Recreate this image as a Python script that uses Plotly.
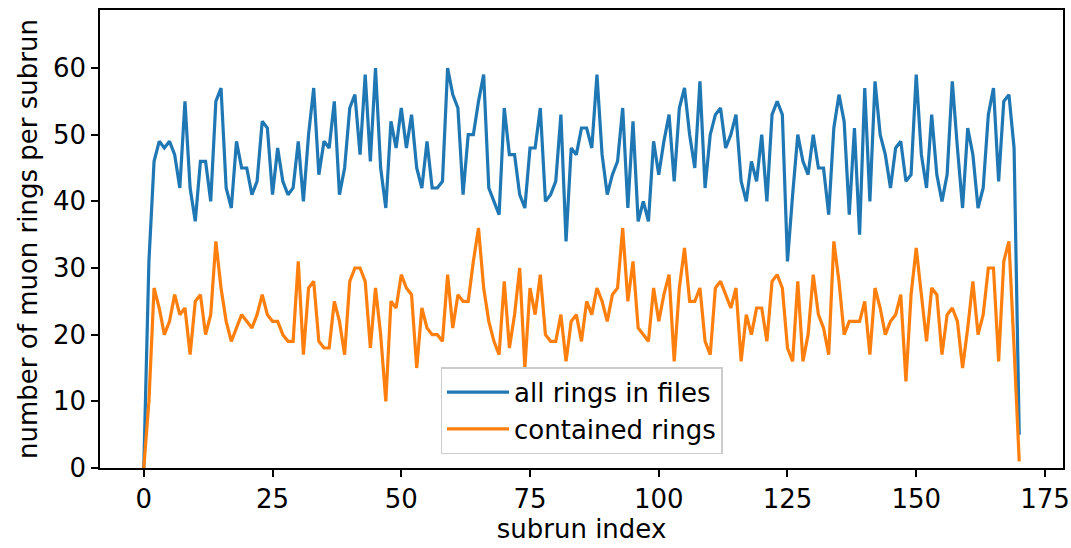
import plotly.graph_objects as go

all_rings = [0, 31, 46, 49, 48, 49, 47, 42, 55, 42, 37, 46, 46, 40, 55, 57, 42, 39, 49, 45,
             45, 41, 43, 52, 51, 41, 48, 43, 41, 42, 49, 40, 50, 57, 44, 49, 48, 55, 41, 45,
             54, 56, 47, 59, 46, 60, 45, 39, 52, 48, 54, 48, 53, 45, 42, 49, 42, 42, 43, 60,
             56, 54, 41, 50, 50, 55, 59, 42, 40, 38, 54, 47, 47, 41, 39, 48, 48, 54, 40, 41,
             43, 53, 34, 48, 47, 51, 51, 48, 59, 47, 41, 44, 46, 54, 39, 52, 37, 40, 37, 49,
             44, 49, 53, 43, 54, 57, 50, 45, 58, 42, 50, 53, 54, 48, 50, 53, 43, 40, 46, 43,
             50, 40, 53, 55, 53, 31, 41, 50, 46, 44, 50, 45, 45, 38, 51, 56, 52, 38, 51, 35,
             57, 40, 58, 50, 47, 42, 48, 49, 43, 44, 59, 47, 42, 53, 44, 40, 44, 58, 48, 39,
             51, 47, 39, 42, 53, 57, 43, 55, 56, 48, 5]

contained_rings = [0, 10, 27, 24, 20, 22, 26, 23, 24, 17, 25, 26, 20, 23, 34, 27, 22, 19, 21, 23,
                   22, 21, 23, 26, 23, 22, 22, 20, 19, 19, 31, 17, 27, 28, 19, 18, 18, 25, 22, 17,
                   28, 30, 30, 28, 18, 27, 20, 10, 25, 24, 29, 27, 26, 15, 24, 21, 20, 20, 19, 29,
                   21, 26, 25, 25, 31, 36, 27, 22, 19, 17, 28, 18, 23, 30, 15, 27, 23, 29, 20, 19,
                   19, 23, 16, 22, 23, 19, 25, 23, 27, 25, 22, 26, 27, 36, 25, 31, 21, 20, 19, 27,
                   22, 26, 29, 16, 27, 33, 25, 25, 27, 19, 17, 27, 28, 26, 24, 27, 16, 23, 20, 24,
                   24, 19, 28, 29, 27, 18, 16, 28, 16, 20, 29, 23, 21, 17, 34, 28, 20, 22, 22, 22,
                   25, 17, 27, 24, 20, 22, 23, 26, 13, 26, 33, 26, 19, 27, 26, 17, 23, 24, 22, 15,
                   21, 28, 20, 23, 30, 30, 16, 31, 34, 18, 1]

subrun_index = list(range(len(all_rings)))

x_ticks = [0, 25, 50, 75, 100, 125, 150, 175]
y_ticks = [0, 10, 20, 30, 40, 50, 60]

FONT = "DejaVu Sans"
FS = 26

fig = go.Figure()
fig.add_trace(go.Scatter(x=subrun_index, y=all_rings, mode="lines",
                         name="all rings in files",
                         line=dict(color="#1f77b4", width=3.2)))
fig.add_trace(go.Scatter(x=subrun_index, y=contained_rings, mode="lines",
                         name="contained rings",
                         line=dict(color="#ff7f0e", width=3.2)))

axis_common = dict(showgrid=False, zeroline=False, showline=True, linecolor="black",
                   linewidth=1.6, mirror=True, ticks="outside", ticklen=7, tickwidth=1.5,
                   tickcolor="black", automargin=False,
                   tickfont=dict(family=FONT, size=FS, color="black"))

fig.update_xaxes(range=[-8.5, 178.5], tickvals=x_ticks,
                 title=dict(text="subrun index", font=dict(family=FONT, size=FS, color="black"),
                            standoff=6),
                 **axis_common)
fig.update_yaxes(range=[0, 68.7], tickvals=y_ticks,
                 title=dict(text="number of muon rings per subrun",
                            font=dict(family=FONT, size=FS, color="black"), standoff=8),
                 **axis_common)

fig.update_layout(
    width=1071, height=548,
    margin=dict(l=100, r=8, t=10, b=80),
    plot_bgcolor="white", paper_bgcolor="white",
    font=dict(family=FONT, size=FS, color="black"),
    legend=dict(x=0.5, xanchor="center", y=0.03, yanchor="bottom",
                bgcolor="rgba(255,255,255,0.8)", bordercolor="#cccccc", borderwidth=1.5,
                font=dict(family=FONT, size=FS, color="black"),
                itemwidth=62),
)

fig.write_html("out.html", config={"displayModeBar": False},
               post_script="document.body.style.margin='0';document.body.style.overflow='hidden';")
